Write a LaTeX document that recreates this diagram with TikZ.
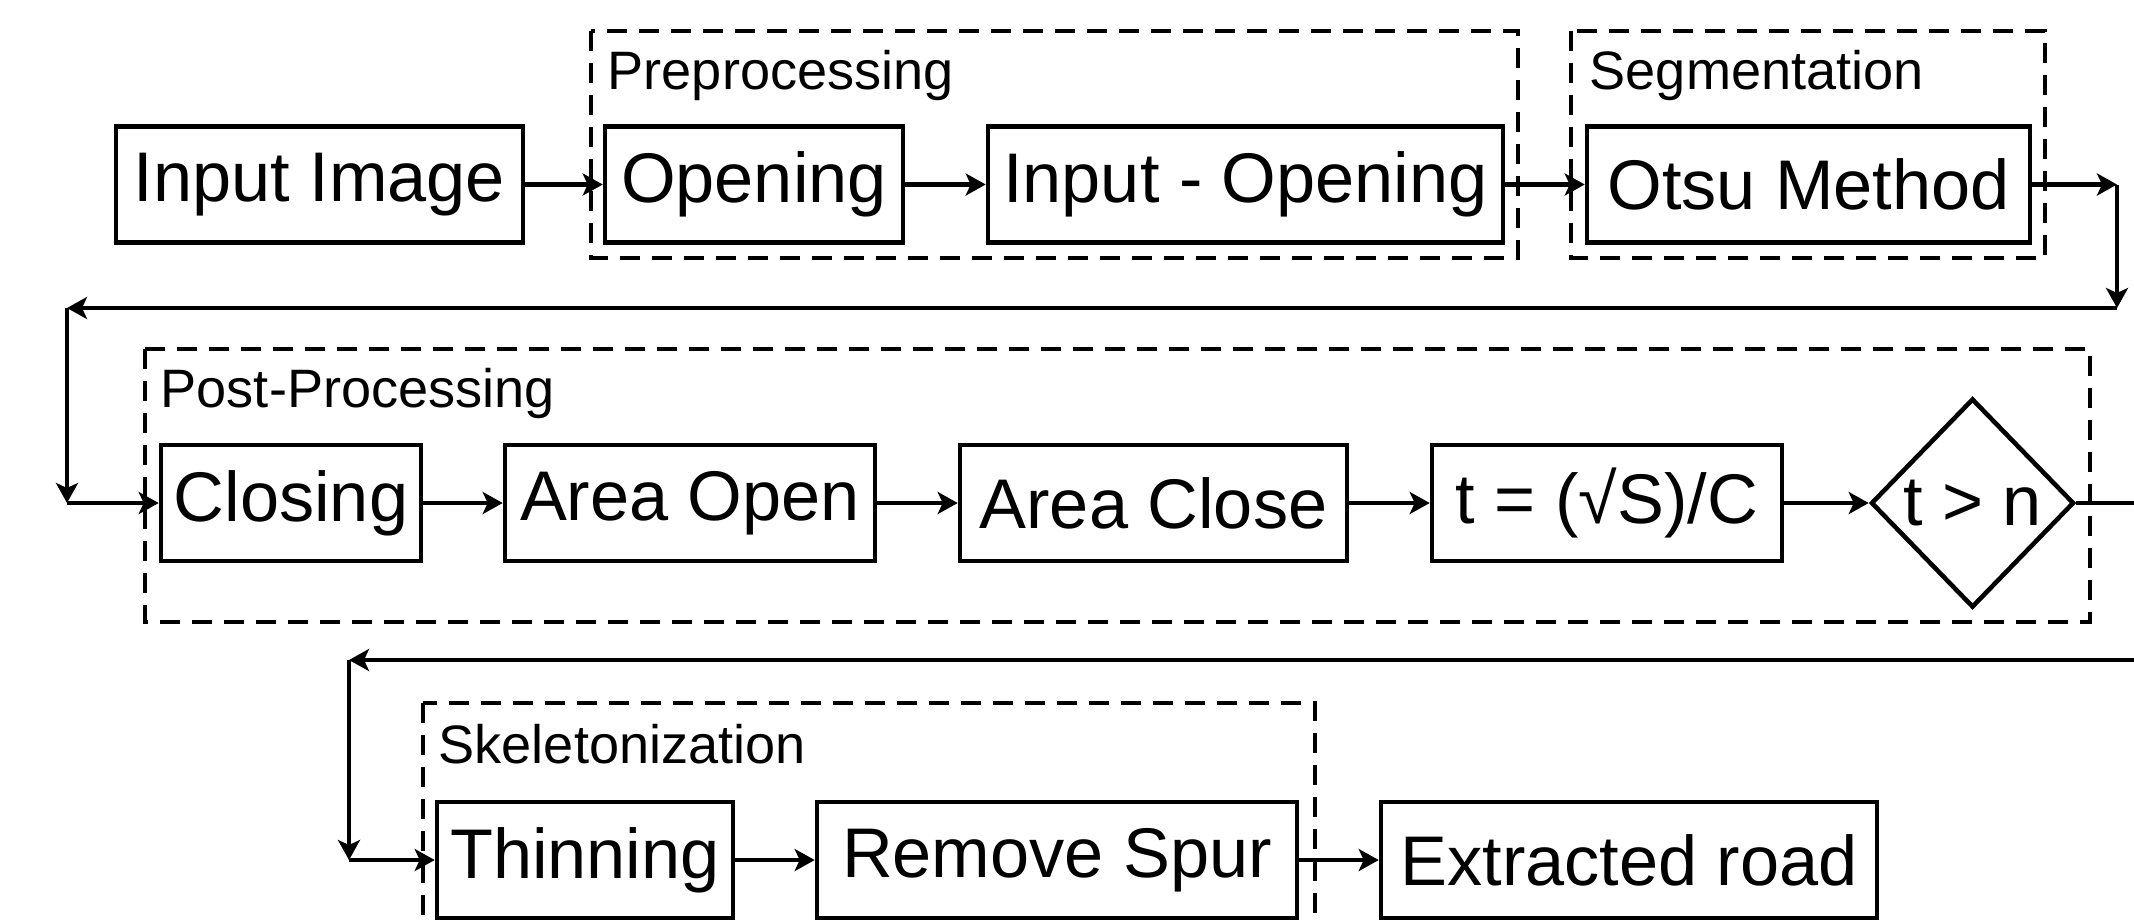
\documentclass[tikz,border=0pt]{standalone}
\usepackage{fontspec}
\setmainfont{Liberation Sans}
\usetikzlibrary{shapes.geometric, arrows.meta}

\tikzset{
	blk/.style={draw, line width=1.3pt, inner sep=0pt, minimum height=1.16cm, font=\fontsize{20}{24}\selectfont},
	grp/.style={draw, line width=1.3pt, dash pattern=on 0.2cm off 0.12cm},
	grplbl/.style={anchor=base west, inner sep=0pt, font=\fontsize{15.4}{18}\selectfont},
	arr/.style={line width=1.3pt, -{Stealth[length=2mm, width=2.2mm, inset=0.5mm]}},
}

\begin{document}
\begin{tikzpicture}
		\useasboundingbox (0,0) rectangle (21.34,-9.2);
		\clip (0,0) rectangle (21.34,-9.2);

		% dashed stage frames
		\draw[grp] (5.91,-0.31) rectangle (15.18,-2.58);  % preprocessing
		\draw[grp] (15.71,-0.31) rectangle (20.45,-2.58);  % segmentation
		\draw[grp] (1.45,-3.49) rectangle (20.90,-6.22);  % post-processing
		\draw[grp] (4.23,-7.03) rectangle (13.15,-9.70);  % skeletonization
		\node[grplbl] (lpre) at (6.07,-0.89) {Preprocessing};
		\node[grplbl] (lseg) at (15.89,-0.89) {Segmentation};
		\node[grplbl] (lpost) at (1.60,-4.07) {Post-Processing};
		\node[grplbl] (lskel) at (4.38,-7.63) {Skeletonization};

		% row 1
		\node[blk, minimum width=4.07cm] (input) at (3.195,-1.845) {Input Image};
		\node[blk, minimum width=2.98cm] (opening) at (7.54,-1.845) {Opening};
		\node[blk, minimum width=5.15cm] (inminus) at (12.455,-1.845) {Input - Opening};
		\node[blk, minimum width=4.43cm] (otsu) at (18.085,-1.845) {Otsu Method};

		% row 2
		\node[blk, minimum width=2.60cm] (closing) at (2.91,-5.03) {Closing};
		\node[blk, minimum width=3.70cm] (areaopen) at (6.90,-5.03) {Area Open};
		\node[blk, minimum width=3.87cm] (areaclose) at (11.535,-5.03) {Area Close};
		\node[blk, minimum width=3.50cm] (tval) at (16.07,-5.03) {t = (√S)/C};
		\node[blk, shape=diamond, minimum width=2.03cm, minimum height=2.09cm] (test) at (19.725,-5.03) {t > n};

		% row 3
		\node[blk, minimum width=2.96cm] (thinning) at (5.85,-8.60) {Thinning};
		\node[blk, minimum width=4.80cm] (spur) at (10.57,-8.60) {Remove Spur};
		\node[blk, minimum width=4.96cm] (road) at (16.29,-8.60) {Extracted road};

		% bends of the two return lines
		\coordinate (c1) at (21.17,-1.845);
		\coordinate (c2) at (21.17,-3.08);
		\coordinate (c3) at (0.67,-3.08);
		\coordinate (c4) at (0.67,-5.03);
		\coordinate (c5) at (21.70,-5.03);
		\coordinate (c6) at (21.70,-6.60);
		\coordinate (c7) at (3.49,-6.60);
		\coordinate (c8) at (3.49,-8.60);

		\draw[arr] (input) -- (opening);
		\draw[arr] (opening) -- (inminus);
		\draw[arr] (inminus) -- (otsu);
		\draw[arr] (otsu) -- (c1);
		\draw[arr] (c1) -- (c2);
		\draw[arr] (c2) -- (c3);
		\draw[arr] (c3) -- (c4);
		\draw[arr] (c4) -- (closing);
		\draw[arr] (closing) -- (areaopen);
		\draw[arr] (areaopen) -- (areaclose);
		\draw[arr] (areaclose) -- (tval);
		\draw[arr] (tval) -- (test);
		\draw[line width=1.3pt] (test) -- (c5);
		\draw[arr] (c5) -- (c6);
		\draw[arr] (c6) -- (c7);
		\draw[arr] (c7) -- (c8);
		\draw[arr] (c8) -- (thinning);
		\draw[arr] (thinning) -- (spur);
		\draw[arr] (spur) -- (road);
	\end{tikzpicture}
\end{document}
